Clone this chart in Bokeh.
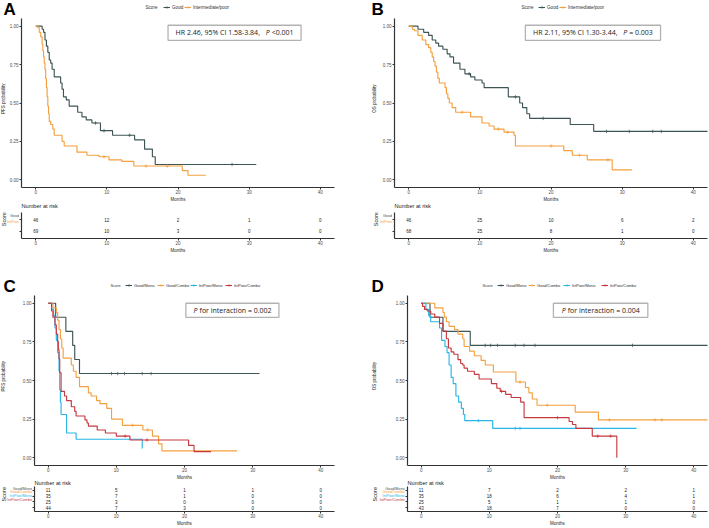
import math
import numpy as np
from bokeh.plotting import figure
from bokeh.models import (Range1d, FixedTicker, NumeralTickFormatter, Label,
                          BoxAnnotation, Legend, LegendItem)
from bokeh.layouts import row, column
from bokeh.embed import file_html
from bokeh.resources import INLINE
from bokeh.core.properties import value

# ===================== data =====================
X_TICKS = [0, 10, 20, 30, 40]
Y_TICKS = [0.0, 0.25, 0.5, 0.75, 1.0]
RISK_TIMES = [0, 10, 20, 30, 40]

# ---- Panel A : PFS by score ----
A_GOOD_T = [0.9, 1.1, 1.3, 1.5, 1.7, 1.9, 2.1, 2.3, 2.6, 3.5, 3.7, 3.9, 4.3, 4.7, 5.9, 6.5, 7.1, 7.9, 9.1, 10.8, 13.9, 15.3, 16.4, 16.8]
A_GOOD_S = [0.98, 0.96, 0.91, 0.87, 0.83, 0.78, 0.76, 0.72, 0.67, 0.63, 0.59, 0.54, 0.52, 0.48, 0.44, 0.41, 0.39, 0.37, 0.32, 0.29, 0.26, 0.20, 0.15, 0.10]
A_GOOD_END = 31.0
A_GOOD_CENS = [8.4, 9.6, 13.2, 27.6]
A_GOOD_RISK = [46, 12, 2, 1, 0]

A_INT_T = [0.3, 0.5, 0.7, 0.9, 1.0, 1.1, 1.2, 1.3, 1.4, 1.5, 1.6, 1.7, 1.8, 1.9, 2.1, 2.4, 2.6, 3.7, 4.0, 5.8, 7.2, 8.9, 10.3, 12.1, 13.8, 20.6, 21.4]
A_INT_S = [0.99, 0.96, 0.93, 0.88, 0.84, 0.80, 0.76, 0.72, 0.66, 0.60, 0.54, 0.48, 0.43, 0.38, 0.36, 0.33, 0.29, 0.25, 0.22, 0.18, 0.16, 0.15, 0.13, 0.12, 0.09, 0.06, 0.03]
A_INT_END = 23.9
A_INT_CENS = [9.6, 15.5, 18.5]
A_INT_RISK = [69, 10, 3, 0, 0]

# ---- Panel B : OS by score ----
B_GOOD_T = [1.3, 2.1, 2.8, 3.3, 3.8, 4.2, 4.8, 5.4, 5.8, 6.3, 7.2, 7.9, 8.7, 9.3, 10.3, 10.6, 14.0, 15.6, 16.0, 16.6, 17.0, 22.7, 26.0]
B_GOOD_S = [0.98, 0.96, 0.94, 0.91, 0.89, 0.87, 0.85, 0.82, 0.80, 0.76, 0.72, 0.69, 0.67, 0.65, 0.63, 0.60, 0.54, 0.50, 0.47, 0.43, 0.40, 0.36, 0.315]
B_GOOD_END = 43.0
B_GOOD_CENS = [8.5, 15.0, 18.9, 27.8, 31.0, 34.3, 35.5]
B_GOOD_RISK = [46, 25, 10, 6, 2]

B_INT_T = [0.5, 0.8, 1.3, 1.9, 2.4, 2.8, 3.1, 3.3, 3.5, 3.7, 3.9, 4.1, 4.3, 5.1, 5.3, 5.5, 5.7, 6.1, 6.6, 8.7, 10.3, 11.3, 12.0, 13.4, 14.8, 15.0, 21.8, 23.0, 25.1, 28.6]
B_INT_S = [0.98, 0.97, 0.94, 0.91, 0.88, 0.86, 0.83, 0.80, 0.77, 0.74, 0.70, 0.66, 0.63, 0.60, 0.56, 0.53, 0.50, 0.47, 0.44, 0.41, 0.37, 0.35, 0.33, 0.31, 0.29, 0.22, 0.19, 0.16, 0.13, 0.065]
B_INT_END = 31.4
B_INT_CENS = [7.5, 12.6, 13.9, 20.0, 24.0, 28.0]
B_INT_RISK = [68, 25, 8, 1, 0]

# ---- Panel C : PFS by score x treatment ----
C_GM_T = [1.1, 2.6, 3.6, 3.9, 4.6]
C_GM_S = [0.909, 0.818, 0.727, 0.636, 0.545]
C_GM_END = 31.0
C_GM_CENS = [9.3, 10.2, 11.2, 13.8, 15.1]
C_GM_RISK = [11, 5, 1, 1, 0]

C_GC_T = [0.7, 1.2, 1.4, 1.6, 1.8, 2.0, 2.2, 3.4, 3.7, 4.1, 4.6, 5.9, 6.3, 7.1, 7.6, 8.6, 9.3, 10.9, 13.9, 15.3, 16.2, 16.7]
C_GC_S = [0.97, 0.94, 0.89, 0.83, 0.77, 0.71, 0.645, 0.60, 0.56, 0.52, 0.46, 0.42, 0.40, 0.37, 0.35, 0.32, 0.25, 0.21, 0.18, 0.14, 0.09, 0.045]
C_GC_END = 27.7
C_GC_CENS = [12.4, 14.6]
C_GC_RISK = [35, 7, 1, 0, 0]

C_IM_T = [0.5, 0.8, 1.0, 1.2, 1.4, 1.6, 1.7, 1.8, 1.9, 2.7, 4.1, 13.8]
C_IM_S = [0.96, 0.92, 0.84, 0.76, 0.68, 0.56, 0.44, 0.36, 0.28, 0.16, 0.12, 0.06]
C_IM_END = 13.8
C_IM_CENS = []
C_IM_RISK = [25, 3, 0, 0, 0]

C_IC_T = [0.5, 0.7, 1.0, 1.2, 1.4, 1.5, 1.6, 1.7, 1.9, 2.4, 2.7, 3.4, 3.9, 4.1, 5.4, 5.7, 5.9, 7.2, 8.4, 10.0, 12.0, 20.6, 21.4]
C_IC_S = [0.95, 0.91, 0.86, 0.80, 0.75, 0.70, 0.64, 0.55, 0.43, 0.40, 0.37, 0.33, 0.30, 0.27, 0.245, 0.225, 0.205, 0.18, 0.16, 0.14, 0.115, 0.08, 0.04]
C_IC_END = 23.9
C_IC_CENS = [11.3, 14.5]
C_IC_RISK = [44, 7, 3, 0, 0]

# ---- Panel D : OS by score x treatment ----
D_GM_T = [1.3, 3.2, 7.2]
D_GM_S = [0.909, 0.818, 0.727]
D_GM_END = 43.0
D_GM_CENS = [9.4, 10.2, 11.2, 13.8, 15.1, 16.7, 31.0]
D_GM_RISK = [11, 7, 2, 2, 1]

D_GC_T = [2.0, 3.2, 3.4, 3.7, 4.1, 4.9, 5.4, 6.1, 6.3, 7.1, 7.8, 8.8, 9.4, 10.6, 13.9, 15.3, 15.8, 16.3, 17.0, 22.6, 26.0]
D_GC_S = [0.97, 0.94, 0.91, 0.88, 0.85, 0.83, 0.80, 0.77, 0.72, 0.69, 0.66, 0.63, 0.60, 0.555, 0.49, 0.455, 0.42, 0.38, 0.34, 0.295, 0.245]
D_GC_END = 43.0
D_GC_CENS = [14.5, 18.5, 27.6, 34.3, 35.3]
D_GC_RISK = [35, 18, 6, 4, 1]

D_IM_T = [0.7, 1.1, 1.4, 2.7, 3.0, 3.5, 3.8, 4.1, 4.4, 4.7, 5.1, 5.5, 5.9, 6.2, 6.4, 10.5]
D_IM_S = [0.96, 0.92, 0.88, 0.84, 0.76, 0.72, 0.68, 0.60, 0.52, 0.48, 0.40, 0.36, 0.32, 0.28, 0.24, 0.19]
D_IM_END = 31.6
D_IM_CENS = [8.4, 13.8, 14.5]
D_IM_RISK = [25, 5, 1, 1, 0]

D_IC_T = [0.2, 0.5, 0.9, 1.4, 2.0, 2.7, 3.2, 3.7, 4.0, 4.4, 4.8, 5.4, 5.8, 6.1, 6.3, 6.8, 7.8, 8.5, 10.3, 11.1, 11.6, 12.4, 13.2, 14.6, 15.1, 21.7, 22.2, 22.7, 25.1, 28.7]
D_IC_S = [0.98, 0.96, 0.95, 0.93, 0.91, 0.87, 0.82, 0.77, 0.71, 0.685, 0.67, 0.635, 0.61, 0.60, 0.58, 0.56, 0.54, 0.51, 0.48, 0.45, 0.43, 0.41, 0.39, 0.36, 0.26, 0.235, 0.215, 0.19, 0.14, 0.0]
D_IC_END = 28.7
D_IC_CENS = [11.8, 20.0, 25.9, 27.8]
D_IC_RISK = [43, 18, 7, 0, 0]

# ===================== style =====================
COL_DARK = "#3E5556"
COL_ORANGE = "#F4A040"
COL_CYAN = "#29B5E8"
COL_RED = "#C6393F"
AX_COL = "#333333"
TICK_TXT = "#4D4D4D"
TXT = "#1A1A1A"
FONT = "Liberation Sans"
BOXFONT = "Open Sans"

XR = (-2.0, 42.0)
YR = (-0.05, 1.05)

SER_A = [("Good", "Good", A_GOOD_T, A_GOOD_S, A_GOOD_END, A_GOOD_CENS, A_GOOD_RISK, COL_DARK),
         ("Intermediate/poor", "IntPoor", A_INT_T, A_INT_S, A_INT_END, A_INT_CENS, A_INT_RISK, COL_ORANGE)]
SER_B = [("Good", "Good", B_GOOD_T, B_GOOD_S, B_GOOD_END, B_GOOD_CENS, B_GOOD_RISK, COL_DARK),
         ("Intermediate/poor", "IntPoor", B_INT_T, B_INT_S, B_INT_END, B_INT_CENS, B_INT_RISK, COL_ORANGE)]
SER_C = [("Good/Mono", "Good/Mono", C_GM_T, C_GM_S, C_GM_END, C_GM_CENS, C_GM_RISK, COL_DARK),
         ("Good/Combo", "Good/Combo", C_GC_T, C_GC_S, C_GC_END, C_GC_CENS, C_GC_RISK, COL_ORANGE),
         ("IntPoor/Mono", "IntPoor/Mono", C_IM_T, C_IM_S, C_IM_END, C_IM_CENS, C_IM_RISK, COL_CYAN),
         ("IntPoor/Combo", "IntPoor/Combo", C_IC_T, C_IC_S, C_IC_END, C_IC_CENS, C_IC_RISK, COL_RED)]
SER_D = [("Good/Mono", "Good/Mono", D_GM_T, D_GM_S, D_GM_END, D_GM_CENS, D_GM_RISK, COL_DARK),
         ("Good/Combo", "Good/Combo", D_GC_T, D_GC_S, D_GC_END, D_GC_CENS, D_GC_RISK, COL_ORANGE),
         ("IntPoor/Mono", "IntPoor/Mono", D_IM_T, D_IM_S, D_IM_END, D_IM_CENS, D_IM_RISK, COL_CYAN),
         ("IntPoor/Combo", "IntPoor/Combo", D_IC_T, D_IC_S, D_IC_END, D_IC_CENS, D_IC_RISK, COL_RED)]

BOX_A = [("HR 2.46, 95% CI 1.58-3.84,", False, 12.6), ("P", True, 0.6), ("<0.001", False, 3.12)]
BOX_B = [("HR 2.11, 95% CI 1.30-3.44,", False, 12.6), ("P", True, 0.6), ("= 0.003", False, 3.38)]
BOX_C = [("P", True, 0.6), ("for interaction = 0.002", False, 10.25)]
BOX_D = [("P", True, 0.6), ("for interaction = 0.004", False, 10.25)]
BOXPOS_A = (18.6, 37.3, 1.006, 0.908)
BOXPOS_B = (16.4, 35.4, 1.006, 0.908)
BOXPOS_C = (20.2, 33.85, 1.0, 0.909)
BOXPOS_D = (19.4, 33.25, 1.0, 0.908)


def km_path(t, s, end):
    return [0.0] + list(t) + [end], [1.0] + list(s) + [s[-1]]


def surv_at(t, s, c):
    allv = [1.0] + list(s)
    idx = np.searchsorted(np.asarray(t, dtype=float), np.asarray(c, dtype=float), side="right")
    return [allv[i] for i in idx]


def strip(w, h, yr=None):
    p = figure(width=w, height=h, x_range=Range1d(0, w),
               y_range=Range1d(*(yr if yr is not None else (h, 0))),
               x_axis_type=None, y_axis_type=None, output_backend="svg", toolbar_location=None,
               min_border=0, min_border_left=0, min_border_right=0,
               min_border_top=0, min_border_bottom=0)
    p.outline_line_color = None
    p.background_fill_color = "white"
    p.border_fill_color = "white"
    return p


def style_axis(ax):
    ax.axis_line_color = AX_COL
    ax.axis_line_width = 1.2
    ax.major_tick_line_color = AX_COL
    ax.major_tick_line_width = 1
    ax.major_tick_out = 2
    ax.major_tick_in = 0
    ax.minor_tick_out = 0
    ax.minor_tick_in = 0
    ax.major_label_text_font = FONT
    ax.major_label_text_font_size = "4.5px"
    ax.major_label_text_color = TICK_TXT
    ax.axis_label_text_font = FONT
    ax.axis_label_text_font_style = "normal"
    ax.axis_label_text_color = TXT


def axes_fig(w, h, yr, left, right, top, bottom):
    p = figure(width=w, height=h, x_range=Range1d(*XR), y_range=Range1d(*yr),
               output_backend="svg", toolbar_location=None,
               min_border_left=left, min_border_right=right,
               min_border_top=top, min_border_bottom=bottom)
    p.outline_line_color = None
    p.xgrid.visible = False
    p.ygrid.visible = False
    p.background_fill_color = "white"
    p.border_fill_color = "white"
    style_axis(p.xaxis[0])
    style_axis(p.yaxis[0])
    p.xaxis.ticker = FixedTicker(ticks=X_TICKS, minor_ticks=[])
    p.xaxis.major_label_standoff = 0
    return p


def make_header(w, h, letter, lx, lcy, score_x, glyph_xs, leg_cy, fs, series):
    p = strip(w, h)
    p.add_layout(Label(x=lx, y=lcy, text=letter, text_align="left", text_baseline="middle",
                       text_font=FONT, text_font_style="bold", text_font_size="17px",
                       text_color="black"))
    p.add_layout(Label(x=score_x, y=leg_cy, text="Score", text_align="left", text_baseline="middle",
                       text_font=FONT, text_font_size="%.1fpx" % fs, text_color="#333333"))
    # key glyphs: the real curves, mapped onto a range that lies outside this strip
    p.extra_y_ranges = {"off": Range1d(5.0, 6.0)}
    LH = 6
    for (name, _tn, t, s, end, _c, _r, col), gx in zip(series, glyph_xs):
        xs, ys = km_path(t, s, end)
        lr = p.line(xs, ys, line_color=col, line_width=1.1, y_range_name="off")
        cr = p.scatter(xs, ys, marker="cross", size=3.5, line_color=col, line_width=0.7,
                       y_range_name="off")
        leg = Legend(items=[LegendItem(label=name, renderers=[lr, cr])],
                     orientation="horizontal", location=(gx, h - (leg_cy + LH / 2.0)),
                     padding=0, margin=0, spacing=0, glyph_width=7, glyph_height=LH,
                     label_height=LH, label_width=0, label_standoff=2,
                     label_text_font=FONT, label_text_font_size="%.1fpx" % fs,
                     label_text_color="#333333", label_text_baseline="middle",
                     border_line_alpha=0, background_fill_alpha=0)
        p.add_layout(leg)
    return p


def make_ystrip(w, h, text, cx, cy):
    p = strip(w, h)
    p.add_layout(Label(x=cx, y=cy, text=text, angle=math.pi / 2, text_align="center",
                       text_baseline="middle", text_font=FONT, text_font_size="4.5px",
                       text_color=TXT))
    return p


def make_main(w, h, left, right, bottom, series, boxpos, pieces):
    p = axes_fig(w, h, YR, left, right, 0, bottom)
    p.yaxis.ticker = FixedTicker(ticks=Y_TICKS, minor_ticks=[])
    p.yaxis.formatter = NumeralTickFormatter(format="0.00")
    p.yaxis.major_label_standoff = 1
    for name, _tn, t, s, end, cens, _risk, col in series:
        xs, ys = km_path(t, s, end)
        p.step(xs, ys, mode="after", line_color=col, line_width=1.15)
        p.scatter(list(cens), surv_at(t, s, cens), marker="cross", size=3.5,
                  line_color=col, line_width=0.7)
    bl, br, bt, bb = boxpos
    p.add_layout(BoxAnnotation(left=bl, right=br, top=bt, bottom=bb, fill_color="white",
                               fill_alpha=1.0, line_color="black", line_width=1.3))
    fs = 7.0
    space = 0.26
    total = sum(wd for _, _, wd in pieces) + space * (len(pieces) - 1)
    ppm = (w - left - right) / (XR[1] - XR[0])
    cx = (bl + br) / 2.0
    cy = (bt + bb) / 2.0
    off = -total * fs / 2.0
    for txt, ital, wd in pieces:
        p.add_layout(Label(x=cx + off / ppm, y=cy, text=txt, text_align="left",
                           text_baseline="middle", text_font=BOXFONT,
                           text_font_style="italic" if ital else "normal",
                           text_font_size="7px", text_color=TXT))
        off += (wd + space) * fs
    return p


def make_mid(w, h, mx_, my_, nx, ny):
    p = strip(w, h)
    p.add_layout(Label(x=mx_, y=my_, text="Months", text_align="center", text_baseline="middle",
                       text_font=FONT, text_font_size="4.5px", text_color=TXT))
    p.add_layout(Label(x=nx, y=ny, text="Number at risk", text_align="left", text_baseline="middle",
                       text_font=FONT, text_font_size="5.6px", text_color=TXT))
    return p


def make_lab(w, h, tab_bottom, series, score_x, lab_right):
    n = len(series)
    hf = h - tab_bottom
    top = n + 0.6
    bot = top - h * (n + 0.2) / hf
    p = strip(w, h, (bot, top))
    ypos = [n - i for i in range(n)]
    for (_nm, tname, _t, _s, _e, _c, _r, col), y in zip(series, ypos):
        p.add_layout(Label(x=lab_right, y=y, text=tname, text_align="right", text_baseline="middle",
                           text_font=FONT, text_font_size="3.7px", text_color=col))
    p.add_layout(Label(x=score_x, y=(n + 1) / 2.0, text="Score", angle=math.pi / 2,
                       text_align="center", text_baseline="middle", text_font=FONT,
                       text_font_size="5.5px", text_color=TXT))
    return p


def make_table(w, h, right, bottom, series):
    n = len(series)
    p = axes_fig(w, h, (0.4, n + 0.6), 2, right, 0, bottom)
    ypos = [n - i for i in range(n)]
    p.yaxis.ticker = FixedTicker(ticks=ypos, minor_ticks=[])
    p.yaxis.major_label_overrides = {y: "" for y in ypos}
    p.yaxis.major_label_standoff = 0
    p.xaxis.axis_label = "Months"
    p.xaxis.axis_label_text_font_size = "4.5px"
    p.xaxis.axis_label_standoff = 0
    for (_nm, _tn, _t, _s, _e, _c, risk, _col), y in zip(series, ypos):
        p.text(x=RISK_TIMES, y=[y] * len(RISK_TIMES), text=[str(v) for v in risk],
               text_align="center", text_baseline="middle", text_font=value(FONT),
               text_font_size=value("4.5px"), text_color="#222222")
    return p


def make_panel(g, series, ylab, boxpos, pieces):
    W = g["W"]
    hdr = make_header(W, g["hdr_h"], g["letter"], g["lx"], g["lcy"], g["score_x"],
                      g["glyph_xs"], g["leg_cy"], g["leg_fs"], series)
    ys = make_ystrip(g["ys_w"], g["main_h"], ylab, g["ylab_x"],
                     (g["main_h"] - g["main_b"]) / 2.0)
    main = make_main(W - g["ys_w"], g["main_h"], g["main_l"], g["main_r"], g["main_b"],
                     series, boxpos, pieces)
    mid = make_mid(W, g["mid_h"], g["months_x"], g["months_y"], g["nar_x"], g["nar_y"])
    lab = make_lab(g["lab_w"], g["tab_h"], g["tab_b"], series, g["score_x2"], g["lab_right"])
    tab = make_table(W - g["lab_w"], g["tab_h"], g["tab_r"], g["tab_b"], series)
    return column(hdr, row(ys, main), mid, row(lab, tab))


GEO_A = dict(W=354, hdr_h=18, main_h=178, mid_h=16, tab_h=52,
             letter="A", lx=3, lcy=9, score_x=145, glyph_xs=[163, 184], leg_cy=7, leg_fs=4.6,
             ys_w=6, ylab_x=3, main_l=15, main_r=20, main_b=9,
             months_x=177.5, months_y=3.0, nar_x=21, nar_y=9.5,
             lab_w=19, tab_r=20, tab_b=26, score_x2=3, lab_right=18.5)
GEO_B = dict(W=355, hdr_h=18, main_h=178, mid_h=16, tab_h=52,
             letter="B", lx=17, lcy=9, score_x=167, glyph_xs=[184, 205], leg_cy=7, leg_fs=4.6,
             ys_w=24, ylab_x=20, main_l=16, main_r=2, main_b=9,
             months_x=196.5, months_y=3.0, nar_x=40, nar_y=9.5,
             lab_w=38, tab_r=2, tab_b=26, score_x2=21.7, lab_right=37.5)
GEO_C = dict(W=354, hdr_h=31, main_h=179, mid_h=12, tab_h=42,
             letter="C", lx=3, lcy=22.3, score_x=110, glyph_xs=[125, 157, 190, 225], leg_cy=21,
             leg_fs=3.9,
             ys_w=7, ylab_x=3.3, main_l=27, main_r=20, main_b=9,
             months_x=184, months_y=2.6, nar_x=34, nar_y=8.3,
             lab_w=32, tab_r=20, tab_b=16, score_x2=3.3, lab_right=31.5)
GEO_D = dict(W=355, hdr_h=31, main_h=179, mid_h=12, tab_h=42,
             letter="D", lx=17, lcy=22.3, score_x=128, glyph_xs=[143, 174, 209, 247], leg_cy=21,
             leg_fs=3.9,
             ys_w=27, ylab_x=20, main_l=26, main_r=2, main_b=9,
             months_x=203, months_y=2.6, nar_x=53, nar_y=8.3,
             lab_w=51, tab_r=2, tab_b=16, score_x2=20, lab_right=50)

panelA = make_panel(GEO_A, SER_A, "PFS probability", BOXPOS_A, BOX_A)
panelB = make_panel(GEO_B, SER_B, "OS probability", BOXPOS_B, BOX_B)
panelC = make_panel(GEO_C, SER_C, "PFS probability", BOXPOS_C, BOX_C)
panelD = make_panel(GEO_D, SER_D, "OS probability", BOXPOS_D, BOX_D)

layout = column(row(panelA, panelB), row(panelC, panelD))

open("out.html", "w").write(file_html(layout, INLINE))
